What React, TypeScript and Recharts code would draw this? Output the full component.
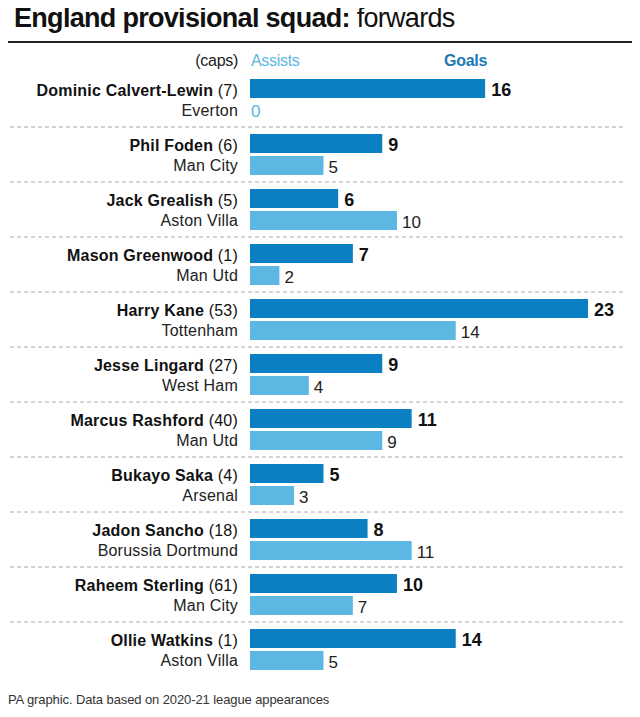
import { BarChart, Bar, XAxis, YAxis, LabelList } from 'recharts';

const players = [
  'Dominic Calvert-Lewin',
  'Phil Foden',
  'Jack Grealish',
  'Mason Greenwood',
  'Harry Kane',
  'Jesse Lingard',
  'Marcus Rashford',
  'Bukayo Saka',
  'Jadon Sancho',
  'Raheem Sterling',
  'Ollie Watkins',
];
const caps = [7, 6, 5, 1, 53, 27, 40, 4, 18, 61, 1];
const clubs = [
  'Everton',
  'Man City',
  'Aston Villa',
  'Man Utd',
  'Tottenham',
  'West Ham',
  'Man Utd',
  'Arsenal',
  'Borussia Dortmund',
  'Man City',
  'Aston Villa',
];
const goals = [16, 9, 6, 7, 23, 9, 11, 5, 8, 10, 14];
const assists = [0, 5, 10, 2, 14, 4, 9, 3, 11, 7, 5];

const GOALS = '#0a7fc1';
const ASSISTS = '#5cb7e2';
const FONT = '"Liberation Sans", Arial, sans-serif';

const rows = players.map((name, i) => ({
  name,
  caps: caps[i],
  club: clubs[i],
  goals: goals[i],
  assists: assists[i],
}));

function PlayerTick(props: any) {
  const { x, y, payload } = props;
  const i = payload.index;
  return (
    <g>
      <text x={x} y={y - 4} textAnchor="end" fontSize={16} fill="#111" fontFamily={FONT} letterSpacing={0.2}>
        <tspan fontWeight={700}>{players[i]} </tspan>
        <tspan>({caps[i]})</tspan>
      </text>
      <text x={x} y={y + 16} textAnchor="end" fontSize={16} fill="#222" fontFamily={FONT} letterSpacing={0.2}>
        {clubs[i]}
      </text>
      {/* a zero-length bar gets no label from recharts, so the 0 goes here */}
      {assists[i] === 0 && (
        <text x={x + 13} y={y + 17} fontSize={17} fill={ASSISTS} fontFamily={FONT}>
          0
        </text>
      )}
      {i < players.length - 1 && (
        <line x1={10} x2={626} y1={y + 27.5} y2={y + 27.5} stroke="#aaa" strokeDasharray="4 3" />
      )}
    </g>
  );
}

function GoalsLabel(props: any) {
  const { x, y, width, height, value } = props;
  return (
    <text x={x + width + 6} y={y + height / 2 + 7} fontSize={18} fontWeight={700} fill="#111" fontFamily={FONT}>
      {value}
    </text>
  );
}

function AssistsLabel(props: any) {
  const { x, y, width, height, value } = props;
  if (!value) return null;
  return (
    <text x={x + width + 5} y={y + height / 2 + 7} fontSize={17} fill="#222" fontFamily={FONT}>
      {value}
    </text>
  );
}

export default function App() {
  return (
    <div style={{ position: 'relative', width: 640, height: 717, margin: -8, background: '#fff', fontFamily: FONT }}>
      <div style={{ position: 'absolute', left: 14, top: 3, fontSize: 27, color: '#111', letterSpacing: -0.7, whiteSpace: 'nowrap' }}>
        <b>England provisional squad:</b> forwards
      </div>
      <div style={{ position: 'absolute', left: 0, top: 41, width: 640, height: 2, background: '#222' }} />
      <div style={{ position: 'absolute', right: 402, top: 52, fontSize: 16, color: '#222', letterSpacing: -0.3 }}>(caps)</div>
      <div style={{ position: 'absolute', left: 251, top: 52, fontSize: 16, color: ASSISTS, letterSpacing: -0.3 }}>Assists</div>
      <div style={{ position: 'absolute', right: 153, top: 52, fontSize: 16, fontWeight: 700, color: '#1a7ab3', letterSpacing: -0.3 }}>Goals</div>
      <div style={{ position: 'absolute', top: 0, left: 0 }}>
        <BarChart
          width={640}
          height={717}
          data={rows}
          layout="vertical"
          margin={{ top: 72, right: 52, bottom: 40, left: 0 }}
          barGap={3}
          barCategoryGap={0}
        >
          <XAxis type="number" domain={[0, 23]} hide />
          <YAxis
            type="category"
            dataKey="name"
            width={250}
            axisLine={false}
            tickLine={false}
            tickSize={0}
            tickMargin={12}
            interval={0}
            tick={<PlayerTick />}
          />
          <Bar dataKey="goals" fill={GOALS} barSize={19} isAnimationActive={false}>
            <LabelList dataKey="goals" content={<GoalsLabel />} />
          </Bar>
          <Bar dataKey="assists" fill={ASSISTS} barSize={19} isAnimationActive={false}>
            <LabelList dataKey="assists" content={<AssistsLabel />} />
          </Bar>
        </BarChart>
      </div>
      <div style={{ position: 'absolute', left: 8, top: 692, fontSize: 13, color: '#333', letterSpacing: -0.1, whiteSpace: 'nowrap' }}>
        PA graphic. Data based on 2020-21 league appearances
      </div>
      <div style={{ position: 'absolute', left: 0, top: 709, width: 640, height: 2, background: '#222' }} />
    </div>
  );
}
